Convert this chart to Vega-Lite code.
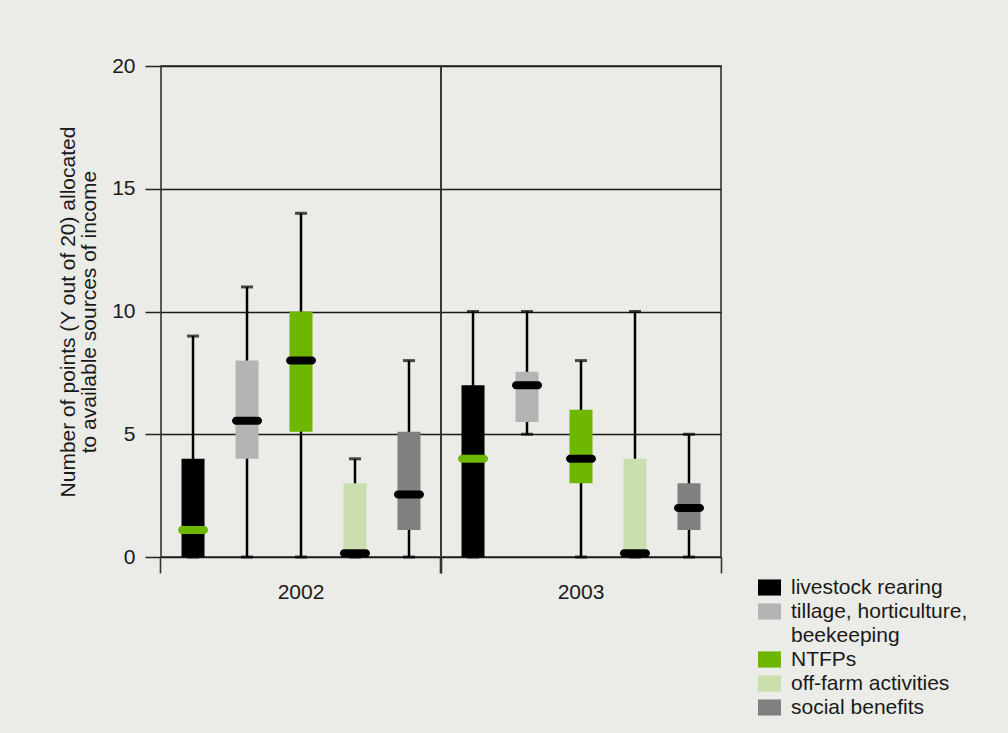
{
  "$schema": "https://vega.github.io/schema/vega-lite/v6.json",
  "background": "#ebebe7",
  "padding": {"left": 57, "top": 55, "right": 40, "bottom": 30},
  "config": {
    "font": "Liberation Sans",
    "view": {"stroke": "#333333", "strokeWidth": 1.6},
    "text": {"font": "Liberation Sans"}
  },
  "data": {
    "values": [
      {"year": "2002", "source": "livestock rearing", "min": 0, "q1": 0, "median": 1.1, "q3": 4, "max": 9},
      {"year": "2002", "source": "tillage, horticulture, beekeeping", "min": 0, "q1": 4, "median": 5.55, "q3": 8, "max": 11},
      {"year": "2002", "source": "NTFPs", "min": 0, "q1": 5.1, "median": 8, "q3": 10, "max": 14},
      {"year": "2002", "source": "off-farm activities", "min": 0, "q1": 0, "median": 0.15, "q3": 3, "max": 4},
      {"year": "2002", "source": "social benefits", "min": 0, "q1": 1.1, "median": 2.55, "q3": 5.1, "max": 8},
      {"year": "2003", "source": "livestock rearing", "min": 0, "q1": 0, "median": 4, "q3": 7, "max": 10},
      {"year": "2003", "source": "tillage, horticulture, beekeeping", "min": 5, "q1": 5.5, "median": 7, "q3": 7.55, "max": 10},
      {"year": "2003", "source": "NTFPs", "min": 0, "q1": 3, "median": 4, "q3": 6, "max": 8},
      {"year": "2003", "source": "off-farm activities", "min": 0, "q1": 0, "median": 0.15, "q3": 4, "max": 10},
      {"year": "2003", "source": "social benefits", "min": 0, "q1": 1.1, "median": 2, "q3": 3, "max": 5}
    ]
  },
  "facet": {
    "column": {
      "field": "year",
      "type": "ordinal",
      "header": {
        "title": null,
        "labelOrient": "bottom",
        "labelFontSize": 21,
        "labelFont": "Liberation Sans",
        "labelColor": "#1a1a1a",
        "labelPadding": 8
      }
    }
  },
  "spacing": 0,
  "bounds": "flush",
  "spec": {
    "width": 280,
    "height": 491,
    "resolve": {"axis": {"x": "independent"}},
    "layer": [
      {
        "mark": {"type": "rule", "color": "#000000", "strokeWidth": 2.5},
        "encoding": {
          "x": {
            "field": "source", "type": "nominal",
            "sort": ["livestock rearing", "tillage, horticulture, beekeeping", "NTFPs", "off-farm activities", "social benefits"],
            "scale": {"paddingInner": 0, "paddingOuter": 0.093},
            "axis": {"orient": "bottom", "values": ["livestock rearing"], "bandPosition": -0.093, "tickSize": 16, "labels": false, "domain": false, "grid": false, "title": null, "tickColor": "#333333", "tickWidth": 1.6}
          },
          "y": {
            "field": "min", "type": "quantitative",
            "scale": {"domain": [0, 20], "nice": false},
            "axis": {
              "values": [0, 5, 10, 15, 20],
              "tickSize": 16,
              "tickColor": "#222222",
              "tickWidth": 1.5,
              "labelPadding": 10,
              "labelFontSize": 21,
              "labelColor": "#1a1a1a",
              "labelFont": "Liberation Sans",
              "domain": false,
              "grid": true,
              "gridColor": "#1a1a1a",
              "gridWidth": 1.5,
              "gridOpacity": 1,
              "title": ["Number of points (Y out of 20) allocated", "to available sources of income"],
              "titleFontSize": 21,
              "titleFontWeight": "normal",
              "titleFont": "Liberation Sans",
              "titleColor": "#1a1a1a",
              "titlePadding": 12,
              "titleLineHeight": 21
            }
          },
          "y2": {"field": "max"}
        }
      },
      {
        "mark": {"type": "tick", "orient": "horizontal", "color": "#000000", "size": 12, "thickness": 3},
        "encoding": {
          "x": {"field": "source", "type": "nominal", "sort": ["livestock rearing", "tillage, horticulture, beekeeping", "NTFPs", "off-farm activities", "social benefits"], "axis": null},
          "y": {"field": "max", "type": "quantitative"}
        }
      },
      {
        "mark": {"type": "tick", "orient": "horizontal", "color": "#000000", "size": 12, "thickness": 3},
        "encoding": {
          "x": {"field": "source", "type": "nominal", "sort": ["livestock rearing", "tillage, horticulture, beekeeping", "NTFPs", "off-farm activities", "social benefits"], "axis": null},
          "y": {"field": "min", "type": "quantitative"}
        }
      },
      {
        "mark": {"type": "bar", "size": 23},
        "encoding": {
          "x": {
            "field": "source", "type": "nominal",
            "sort": ["livestock rearing", "tillage, horticulture, beekeeping", "NTFPs", "off-farm activities", "social benefits"],
            "axis": {"orient": "bottom", "values": ["social benefits"], "bandPosition": 1.093, "tickSize": 16, "labels": false, "domain": false, "grid": false, "title": null, "tickColor": "#333333", "tickWidth": 1.6}
          },
          "y": {"field": "q1", "type": "quantitative"},
          "y2": {"field": "q3"},
          "color": {
            "field": "source", "type": "nominal",
            "scale": {
              "domain": ["livestock rearing", "tillage, horticulture, beekeeping", "NTFPs", "off-farm activities", "social benefits"],
              "range": ["#000000", "#b4b4b4", "#6eb700", "#cbdeae", "#808080"]
            },
            "legend": {
              "orient": "none",
              "legendX": 597,
              "legendY": 510,
              "title": null,
              "padding": 0,
              "symbolType": "M-1,-0.7L1,-0.7L1,0.7L-1,0.7Z",
              "symbolSize": 529,
              "symbolStrokeWidth": 0,
              "symbolOpacity": 1,
              "labelFontSize": 21,
              "labelFont": "Liberation Sans",
              "labelColor": "#1a1a1a",
              "labelOffset": 10,
              "rowPadding": 2,
              "labelLimit": 300,
              "labelExpr": "datum.label === 'tillage, horticulture, beekeeping' ? ['tillage, horticulture,', 'beekeeping'] : datum.label",
              "encode": {"labels": {"update": {"lineHeight": {"value": 24.3}}}}
            }
          }
        }
      },
      {
        "mark": {"type": "tick", "orient": "horizontal", "size": 30, "thickness": 8, "cornerRadius": 4, "opacity": 1},
        "encoding": {
          "x": {"field": "source", "type": "nominal", "sort": ["livestock rearing", "tillage, horticulture, beekeeping", "NTFPs", "off-farm activities", "social benefits"], "axis": null},
          "y": {"field": "median", "type": "quantitative"},
          "color": {"condition": {"test": "datum.source === 'livestock rearing'", "value": "#6eb700"}, "value": "#000000"}
        }
      }
    ]
  }
}
